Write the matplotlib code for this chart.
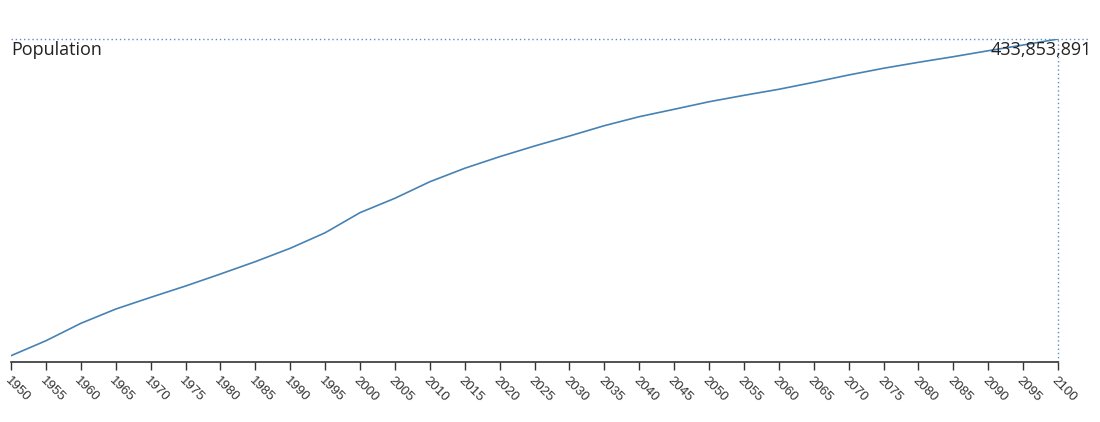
import numpy as np
import matplotlib
matplotlib.use("Agg")
import matplotlib.pyplot as plt

years = list(range(1950, 2101, 5))
population = [152.0, 165.3, 180.8, 193.5, 203.9, 214.0, 224.7, 235.7, 247.6, 261.4,
              279.3, 292.1, 306.8, 318.8, 329.1, 338.6, 347.5, 356.7, 364.7, 371.3,
              378.0, 383.7, 389.1, 395.3, 401.8, 407.8, 413.1, 418.1, 423.4, 428.5,
              433.853891]
population = [p * 1e6 for p in population]
last_label = "433,853,891"

W, H = 1100, 422
fig = plt.figure(figsize=(W / 100, H / 100), dpi=100)
ax = fig.add_axes([11 / W, 60 / H, 1047 / W, 323 / H])

line_color = "#4682b4"
ax.plot(years, population, color=line_color, lw=1.2)
ax.set_xlim(1950, 2100)
ax.set_ylim(146.4e6, population[-1])

for s in ["top", "right", "left"]:
    ax.spines[s].set_visible(False)
ax.spines["bottom"].set_color("#333333")
ax.spines["bottom"].set_linewidth(1.2)
ax.set_yticks([])
ax.set_xticks(years)
labels = ax.set_xticklabels([str(y) for y in years], rotation=-45, ha="left", va="top",
                            rotation_mode="anchor", fontsize=9.5, color="#333333")
for t in labels:
    t.set_fontfamily(["Liberation Sans", "DejaVu Sans"])
ax.tick_params(axis="x", direction="out", length=6, width=1, color="#333333", pad=3)

# dotted guide lines to the last point
ax.plot([0, (1090 - 11) / 1047], [1, 1], transform=ax.transAxes, ls=(0, (1, 2)),
        color="#5b8fc4", lw=1.0, clip_on=False)
ax.plot([years[-1], years[-1]], [ax.get_ylim()[0], population[-1]], ls=(0, (1, 2)),
        color="#5b8fc4", lw=1.0, clip_on=False)

fig.text(11 / W, 1 - 50 / H, "Population", ha="left", va="center", fontsize=13,
         color="#222222", family="Open Sans")
fig.text(1092 / W, 1 - 50 / H, last_label, ha="right", va="center", fontsize=13,
         color="#222222", family="Open Sans")

fig.savefig("out.png", dpi=100)
